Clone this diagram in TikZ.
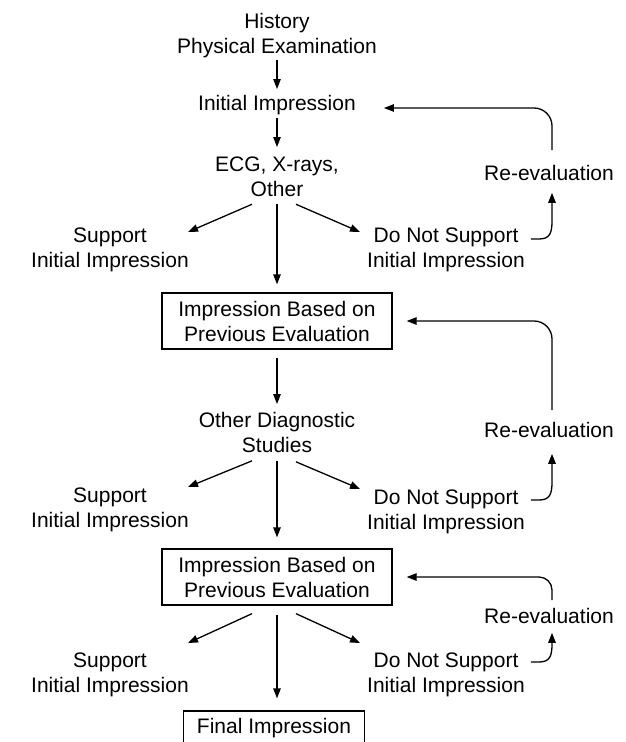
\documentclass[tikz,border=0pt]{standalone}
\usepackage{fontspec}
\setmainfont{Liberation Sans}
\usetikzlibrary{arrows.meta}

\begin{document}
\begin{tikzpicture}[x=1pt,y=-1pt,
  txt/.style={font=\fontsize{21}{25}\selectfont, align=center, inner sep=0pt, anchor=north},
  stage/.style={draw, line width=1.3pt, font=\fontsize{21}{25}\selectfont, align=center, inner sep=0pt, minimum width=230pt, minimum height=56pt},
  flow/.style={line width=1.3pt, -{Triangle[length=10pt,width=7.5pt]}}]
  \clip (0,0) rectangle (626,742);

  % first round
  \node[txt] (hist) at (277,13) {History\\Physical Examination};
  \node[txt] (init) at (277,95) {Initial Impression};
  \node[txt] (ecg) at (277,157) {ECG, X-rays,\\Other};
  \node[txt] (sup1) at (110,228) {Support\\Initial Impression};
  \node[txt] (dns1) at (446,228) {Do Not Support\\Initial Impression};
  \node[txt] (reev1) at (549,165) {Re-evaluation};
  \draw[flow] ([yshift=-2pt]hist.south) -- ([yshift=6pt]init.north);
  \draw[flow] ([yshift=-3pt]init.south) -- ([yshift=10pt]ecg.north);
  \draw[flow] ([xshift=-25pt,yshift=-7pt]ecg.south) -- ([xshift=-1pt,yshift=-4pt]sup1.north east);
  \draw[flow] ([xshift=19pt,yshift=-7pt]ecg.south) -- ([xshift=-7pt,yshift=-4pt]dns1.north west);
  \draw[flow] ([xshift=6pt,yshift=-11pt]dns1.north east) -- ++(8,0)
    .. controls +(11,0) and +(0,12) .. ([xshift=3pt,yshift=-40pt]reev1.south)
    -- ([xshift=3pt,yshift=-12pt]reev1.south);
  \draw[flow, rounded corners=18pt] ([xshift=3pt,yshift=15pt]reev1.north) |- ([xshift=28pt,yshift=-3pt]init.east);

  % second round
  \node[stage] (box1) at (277,321) {Impression Based on\\Previous Evaluation};
  \node[txt] (ods) at (277,412) {Other Diagnostic\\Studies};
  \node[txt] (sup2) at (110,488) {Support\\Initial Impression};
  \node[txt] (dns2) at (446,490) {Do Not Support\\Initial Impression};
  \node[txt] (reev2) at (549,422) {Re-evaluation};
  \draw[flow] ([yshift=-7pt]ecg.south) -- ([yshift=8pt]box1.north);
  \draw[flow] ([yshift=-8pt]box1.south) -- ([yshift=8pt]ods.north);
  \draw[flow] ([xshift=-25pt,yshift=-8pt]ods.south) -- ([xshift=-1pt,yshift=1pt]sup2.north east);
  \draw[flow] ([xshift=19pt,yshift=-9pt]ods.south) -- ([xshift=-7pt,yshift=1pt]dns2.north west);
  \draw[flow] ([xshift=6pt,yshift=-10pt]dns2.north east) -- ++(8,0)
    .. controls +(11,0) and +(0,12) .. ([xshift=3pt,yshift=-44pt]reev2.south)
    -- ([xshift=3pt,yshift=-16pt]reev2.south);
  \draw[flow, rounded corners=18pt] ([xshift=3pt,yshift=12pt]reev2.north) |- ([xshift=14pt]box1.east);

  % third round
  \node[stage] (box2) at (277,577) {Impression Based on\\Previous Evaluation};
  \node[txt] (sup3) at (110,653) {Support\\Initial Impression};
  \node[txt] (dns3) at (446,653) {Do Not Support\\Initial Impression};
  \node[txt] (reev3) at (549,608) {Re-evaluation};
  \node[stage, minimum width=181pt, minimum height=34pt] (final) at (274,728) {Final Impression};
  \draw[flow] ([yshift=-8pt]ods.south) -- ([yshift=11pt]box2.north);
  \draw[flow] ([xshift=-25pt,yshift=-8pt]box2.south) -- ([xshift=-1pt,yshift=10pt]sup3.north east);
  \draw[flow] ([xshift=19pt,yshift=-8pt]box2.south) -- ([xshift=-7pt,yshift=10pt]dns3.north west);
  \draw[flow] ([yshift=-9pt]box2.south) -- ([yshift=12pt]box2.south |- final.north);
  \draw[flow] ([xshift=6pt,yshift=-9pt]dns3.north east) -- ++(8,0)
    .. controls +(11,0) and +(0,12) .. ([xshift=3pt,yshift=-20pt]reev3.south)
    -- ([xshift=3pt,yshift=-9pt]reev3.south);
  \draw[flow, rounded corners=13pt] ([xshift=3pt,yshift=8pt]reev3.north) |- ([xshift=14pt]box2.east);
\end{tikzpicture}
\end{document}
